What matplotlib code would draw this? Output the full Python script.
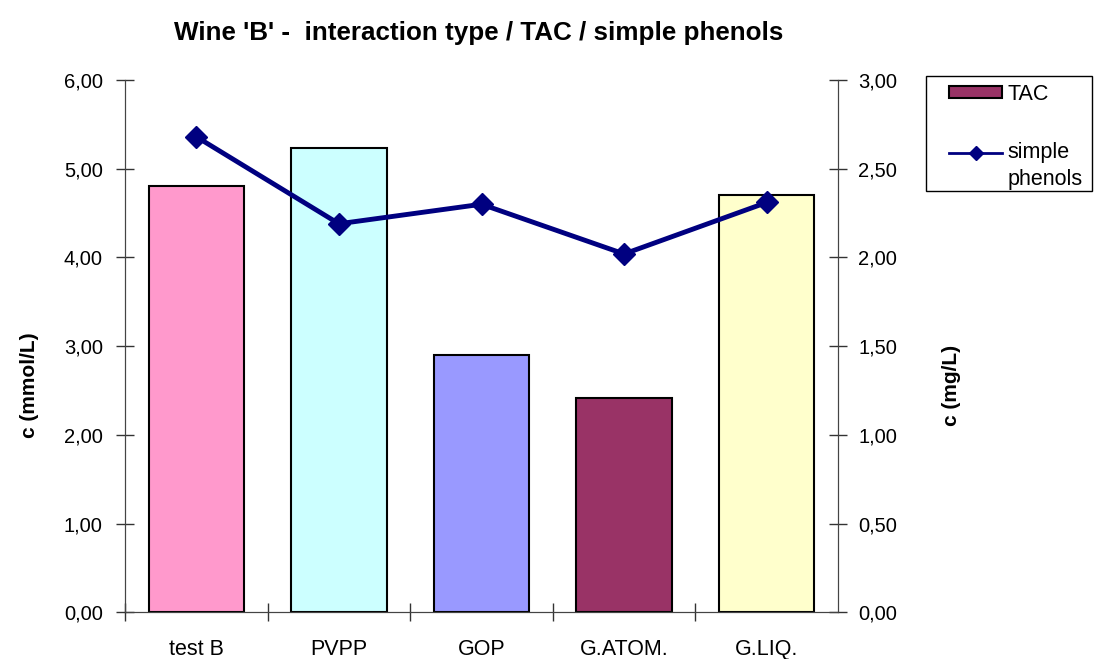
import matplotlib.pyplot as plt
from matplotlib.patches import Patch, Rectangle
from matplotlib.lines import Line2D
from matplotlib.legend_handler import HandlerLine2D
from matplotlib.ticker import FuncFormatter, FixedLocator

plt.rcParams["font.family"] = ["Liberation Sans", "DejaVu Sans"]

categories = ["test B", "PVPP", "GOP", "G.ATOM.", "G.LIQ."]
tac = [4.80, 5.23, 2.90, 2.42, 4.70]
simple_phenols = [2.68, 2.19, 2.30, 2.02, 2.31]
bar_colors = ["#FF99CC", "#CCFFFF", "#9999FF", "#993366", "#FFFFCC"]
line_color = "#000080"


def comma_fmt(v, pos):
    return f"{v:.2f}".replace(".", ",")


class TopLineHandler(HandlerLine2D):
    # keep the line handle level with the first line of a two-line label
    def __init__(self, lift=9, **kw):
        super().__init__(**kw)
        self.lift = lift

    def create_artists(self, legend, orig_handle, xdescent, ydescent, width,
                       height, fontsize, trans):
        return super().create_artists(legend, orig_handle, xdescent,
                                      ydescent - 2 * self.lift, width, height,
                                      fontsize, trans)


fig = plt.figure(figsize=(10.95, 6.59), dpi=100)
ax = fig.add_axes([0.1142, 0.0706, 0.6511, 0.808])
x = list(range(len(categories)))

ax.bar(x, tac, width=0.67, color=bar_colors, edgecolor="black", linewidth=1.5, zorder=2)
ax.set_xlim(-0.5, len(categories) - 0.5)
ax.set_ylim(0, 6)
ax.set_yticks([0, 1, 2, 3, 4, 5, 6])
ax.yaxis.set_major_formatter(FuncFormatter(comma_fmt))
ax.set_xticks(x)
ax.set_xticklabels(categories)
ax.xaxis.set_minor_locator(FixedLocator([i - 0.5 for i in range(len(categories))]))
ax.tick_params(axis="x", which="major", length=0, pad=19, labelsize=15.5)
ax.tick_params(axis="x", which="minor", direction="inout", length=13, width=1, color="#333333")
ax.tick_params(axis="y", direction="inout", length=13, width=1, color="#333333",
               labelsize=14.5, pad=9.5)
ax.set_ylabel("c (mmol/L)", fontsize=15, fontweight="bold")
ax.yaxis.set_label_coords(-0.12, 0.427)
ax.spines["top"].set_visible(False)
for s in ("left", "right", "bottom"):
    ax.spines[s].set_color("#444444")

ax2 = ax.twinx()
ax2.plot(x, simple_phenols, color=line_color, linewidth=3.5, marker="D",
         markersize=11, zorder=3)
ax2.set_ylim(0, 3)
ax2.set_yticks([0, 0.5, 1, 1.5, 2, 2.5, 3])
ax2.yaxis.set_major_formatter(FuncFormatter(comma_fmt))
ax2.tick_params(axis="y", direction="inout", length=13, width=1, color="#333333",
                labelsize=14.5, pad=8)
ax2.set_ylabel("c (mg/L)", fontsize=15, fontweight="bold")
ax2.yaxis.set_label_coords(1.146, 0.427)
ax2.spines["top"].set_visible(False)
for s in ("left", "right", "bottom"):
    ax2.spines[s].set_color("#444444")

fig.text(0.437, 0.950, "Wine 'B' -  interaction type / TAC / simple phenols",
         ha="center", va="center", fontsize=18.7, fontweight="bold")

# legend: entries without frame, box drawn around them
line_handle = Line2D([0], [0], color=line_color, linewidth=2, marker="D", markersize=7)
handles = [Patch(facecolor="#993366", edgecolor="black", linewidth=1.5), line_handle]
leg = fig.legend(handles, ["TAC", "simple\nphenols"], loc="upper left",
                 bbox_to_anchor=(949 / 1095, 1 - 84 / 659), fontsize=15.5,
                 frameon=False, handlelength=2.47, handleheight=0.5,
                 labelspacing=1.7, borderpad=0, borderaxespad=0,
                 handletextpad=0.23,
                 handler_map={line_handle: TopLineHandler(lift=10)})
leg.get_texts()[1].set_linespacing(1.38)
fig.patches.append(Rectangle((926 / 1095, 1 - 191 / 659), 166 / 1095, 115 / 659,
                             transform=fig.transFigure, fill=False,
                             edgecolor="black", linewidth=1))

fig.savefig("out.png", dpi=100)
